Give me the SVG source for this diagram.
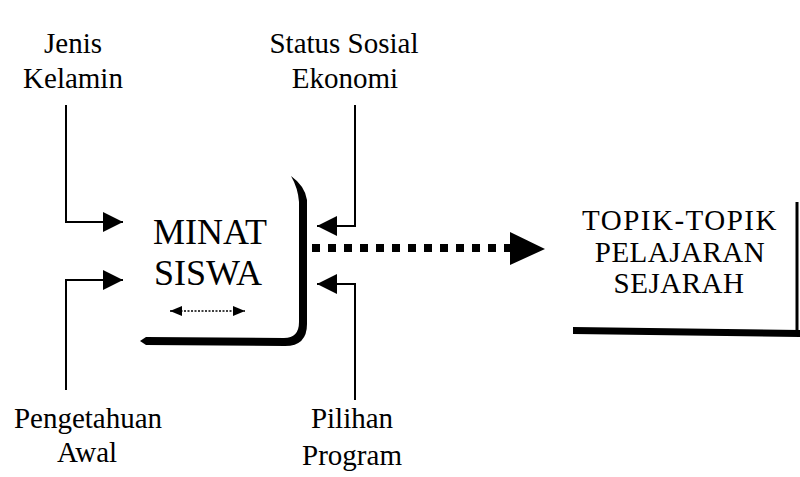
<svg xmlns="http://www.w3.org/2000/svg" width="800" height="477" viewBox="0 0 800 477">
<style>
text{font-family:'Liberation Serif','DejaVu Serif','Times New Roman',serif;fill:#000;text-anchor:middle}
.lbl{font-size:29px}
.mid{font-size:36px}
.top{font-size:29px}
.ln{fill:none;stroke:#000;stroke-width:2}
</style>
<defs>
<marker id="ah" markerUnits="userSpaceOnUse" markerWidth="22" markerHeight="22" refX="20" refY="10" orient="auto">
<path d="M0,0 L20,10 L0,20 Z" fill="#000"/>
</marker>
<marker id="sh" markerUnits="userSpaceOnUse" markerWidth="14" markerHeight="12" refX="12" refY="5" orient="auto-start-reverse">
<path d="M0,0 L12,5 L0,10 Z" fill="#000"/>
</marker>
</defs>
<rect width="800" height="477" fill="#fff"/>

<g id="jenis-kelamin" font-family="Liberation Serif, serif">
<text class="lbl" x="73" y="53">Jenis</text>
<text class="lbl" x="73" y="88">Kelamin</text>
</g>
<g id="status-sosial-ekonomi" font-family="Liberation Serif, serif">
<text class="lbl" x="344" y="53">Status Sosial</text>
<text class="lbl" x="345" y="88">Ekonomi</text>
</g>
<g id="pengetahuan-awal" font-family="Liberation Serif, serif">
<text class="lbl" x="88" y="428">Pengetahuan</text>
<text class="lbl" x="87" y="462">Awal</text>
</g>
<g id="pilihan-program" font-family="Liberation Serif, serif">
<text class="lbl" x="352" y="428">Pilihan</text>
<text class="lbl" x="352" y="465">Program</text>
</g>

<g id="minat-siswa" font-family="Liberation Serif, serif">
<path d="M291,176 Q305,186 307,200 L307,324 Q307,346 285,346 L146,345 L140,341 L146,337 L284,338 Q299,338 299,322 L299,202 Q298,188 291,176 Z" fill="#000"/>
<text class="mid" x="210" y="244">MINAT</text>
<text class="mid" x="208" y="285">SISWA</text>
<line x1="170" y1="311" x2="245" y2="311" stroke="#000" stroke-width="1.5" stroke-dasharray="2 1.5" marker-start="url(#sh)" marker-end="url(#sh)"/>
</g>

<g id="topik-topik" font-family="Liberation Serif, serif">
<text class="top" x="680" y="230" letter-spacing="1.5">TOPIK-TOPIK</text>
<text class="top" x="680" y="262" letter-spacing="0.5">PELAJARAN</text>
<text class="top" x="679" y="293" letter-spacing="0.5">SEJARAH</text>
<polygon points="573,327 800,330 800,337 573,334" fill="#000"/>
<line x1="797" y1="202" x2="797" y2="333" stroke="#000" stroke-width="3"/>
</g>

<g id="connectors">
<path class="ln" d="M66,105 L66,222 L123,222" marker-end="url(#ah)"/>
<path class="ln" d="M66,390 L66,280 L123,280" marker-end="url(#ah)"/>
<path class="ln" d="M355,105 L355,226 L317,226" marker-end="url(#ah)"/>
<path class="ln" d="M355,400 L355,284 L317,284" marker-end="url(#ah)"/>
<line x1="312" y1="248" x2="512" y2="248" stroke="#000" stroke-width="8" stroke-dasharray="8 8"/>
<polygon points="510,232 545,249 510,265" fill="#000"/>
</g>
</svg>
